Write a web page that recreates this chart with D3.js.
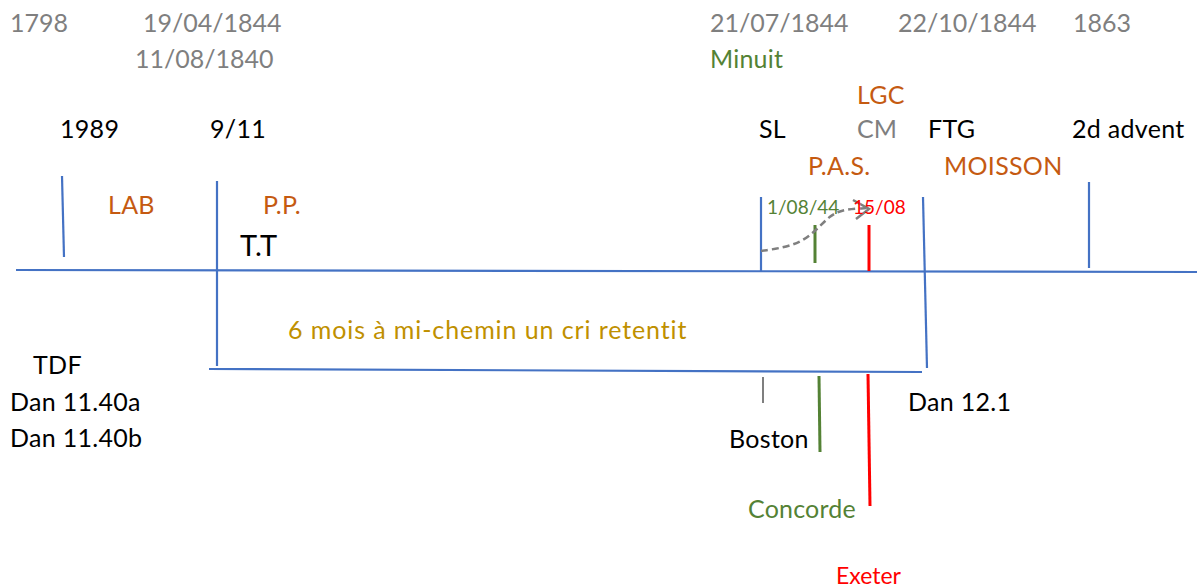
<!DOCTYPE html>
<html>
<head>
<meta charset="utf-8">
<script src="https://cdn.jsdelivr.net/npm/d3@7"></script>
<style>
  body { margin: 0; background: #fff; }
  text { font-family: Lato, "Noto Sans", sans-serif; }
</style>
</head>
<body>
<div id="chart"></div>
<script>
// timeline units: x in [0,120], y in [0,58.4]
const labelText = ["1798", "19/04/1844", "11/08/1840", "21/07/1844", "22/10/1844", "1863",
  "Minuit", "LGC", "1989", "9/11", "SL", "CM", "FTG", "2d advent",
  "P.A.S.", "MOISSON", "LAB", "P.P.", "T.T", "1/08/44", "15/08",
  "6 mois à mi-chemin un cri retentit", "TDF", "Dan 11.40a", "Dan 11.40b",
  "Dan 12.1", "Boston", "Concorde", "Exeter"];
const labelX = [1.0, 14.3, 13.5, 71.0, 89.8, 107.3,
  71.0, 85.7, 6.0, 21.0, 75.9, 85.7, 92.8, 107.2,
  80.8, 94.4, 10.8, 26.3, 24.0, 76.7, 85.3,
  28.8, 3.3, 1.0, 1.0,
  90.8, 72.9, 74.8, 83.6];
const labelY = [3.2, 3.2, 6.8, 3.2, 3.2, 3.2,
  6.8, 10.4, 13.8, 13.8, 13.8, 13.8, 13.8, 13.8,
  17.5, 17.5, 21.4, 21.4, 25.6, 21.4, 21.4,
  33.9, 37.4, 41.1, 44.7,
  41.1, 44.8, 51.8, 58.4];
const labelKind = ["date", "date", "date", "date", "date", "date",
  "green", "orange", "black", "black", "black", "date", "black", "black",
  "orange", "orange", "orange", "orange", "big", "smallGreen", "smallRed",
  "gold", "black", "black", "black",
  "black", "black", "green", "red"];

// blue vertical markers
const markX1 = [6.2, 21.7, 76.1, 92.3, 108.9];
const markX2 = [6.4, 21.7, 76.1, 92.7, 108.9];
const markY1 = [17.6, 18.1, 19.7, 19.7, 18.2];
const markY2 = [25.7, 36.6, 27.1, 36.8, 26.8];

// horizontal lines
const hlineX1 = [1.6, 20.9];
const hlineX2 = [119.7, 92.2];
const hlineY1 = [27.0, 36.9];
const hlineY2 = [27.2, 37.2];

// coloured ticks
const tickX = [76.3, 81.9, 86.8, 81.5, 86.9];
const tickX2 = [76.3, 82.0, 87.0, 81.5, 86.9];
const tickY1 = [37.7, 37.6, 37.4, 22.5, 22.5];
const tickY2 = [40.3, 45.2, 50.6, 26.3, 27.1];
const tickKind = ["gray", "green", "red", "green", "red"];

// dashed arrow path
const arrowPts = [[76.1, 25.1], [79.5, 24.6], [81.5, 23.2], [83.0, 21.5], [84.5, 20.9], [86.8, 20.8]];
const arrowHead = [[85.3, 20.0], [86.9, 20.9], [85.6, 21.9]];

const colors = {
  date: "#7f7f7f", gray: "#7f7f7f", green: "#548235", orange: "#c55a11",
  black: "#000", big: "#000", smallGreen: "#548235", smallRed: "#ff0000",
  gold: "#bf9000", red: "#ff0000", blue: "#4472c4"
};
const sizes = { date: 25, green: 25, orange: 25, black: 25, big: 29, smallGreen: 19, smallRed: 19, gold: 25, red: 23 };
const spacing = { gold: 0.9, black: 0.3, orange: 0.3, green: 0.2 };

const svg = d3.select("#chart")
  .append("svg")
  .attr("width", 1200)
  .attr("height", 584);

const x = d3.scaleLinear().domain([0, 120]).range([0, 1200]);
const y = d3.scaleLinear().domain([0, 58.4]).range([0, 584]);

// horizontal lines
svg.selectAll(".hline")
  .data(hlineX1)
  .enter()
  .append("line")
  .attr("class", "hline")
  .attr("x1", (d) => x(d))
  .attr("x2", (d, i) => x(hlineX2[i]))
  .attr("y1", (d, i) => y(hlineY1[i]))
  .attr("y2", (d, i) => y(hlineY2[i]))
  .attr("stroke", colors.blue)
  .attr("stroke-width", 2.2);

// vertical markers
svg.selectAll(".mark")
  .data(markX1)
  .enter()
  .append("line")
  .attr("class", "mark")
  .attr("x1", (d) => x(d))
  .attr("x2", (d, i) => x(markX2[i]))
  .attr("y1", (d, i) => y(markY1[i]))
  .attr("y2", (d, i) => y(markY2[i]))
  .attr("stroke", colors.blue)
  .attr("stroke-width", 2.2);

// coloured ticks
svg.selectAll(".tick")
  .data(tickX)
  .enter()
  .append("line")
  .attr("class", "tick")
  .attr("x1", (d) => x(d))
  .attr("x2", (d, i) => x(tickX2[i]))
  .attr("y1", (d, i) => y(tickY1[i]))
  .attr("y2", (d, i) => y(tickY2[i]))
  .attr("stroke", (d, i) => colors[tickKind[i]])
  .attr("stroke-width", (d, i) => tickKind[i] === "gray" ? 2 : 3);

// dashed arrow
const curve = d3.line()
  .x((d) => x(d[0]))
  .y((d) => y(d[1]))
  .curve(d3.curveBasis);

svg.append("path")
  .attr("d", curve(arrowPts))
  .attr("fill", "none")
  .attr("stroke", "#7f7f7f")
  .attr("stroke-width", 2.5)
  .attr("stroke-dasharray", "7,4");

svg.append("path")
  .attr("d", d3.line().x((d) => x(d[0])).y((d) => y(d[1]))(arrowHead))
  .attr("fill", "none")
  .attr("stroke", "#7f7f7f")
  .attr("stroke-width", 2.5);

// labels
svg.selectAll(".label")
  .data(labelText)
  .enter()
  .append("text")
  .attr("class", "label")
  .attr("x", (d, i) => x(labelX[i]))
  .attr("y", (d, i) => y(labelY[i]))
  .attr("fill", (d, i) => colors[labelKind[i]])
  .attr("font-size", (d, i) => sizes[labelKind[i]])
  .attr("letter-spacing", (d, i) => spacing[labelKind[i]] || 0)
  .text((d) => d);
</script>
</body>
</html>
